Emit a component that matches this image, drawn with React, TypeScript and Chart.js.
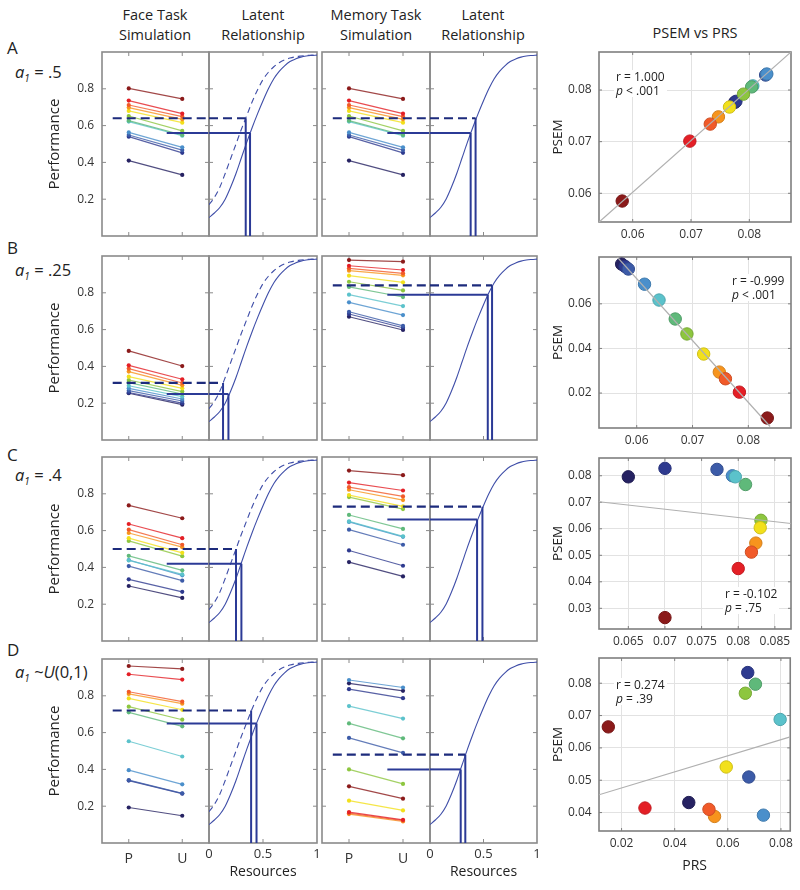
import React, { useEffect, useRef } from 'react';
import { Chart, registerables } from 'chart.js';

Chart.register(...registerables);

const FONT = '"Open Sans", "Noto Sans", Arial, sans-serif';

// ---------------- data ----------------
const SUBJECT_COLORS = ['#8b1a1a', '#e41f26', '#f15a29', '#f7941d', '#f2e01b', '#8dc63f', '#5fb97a', '#5bc2cb', '#4a8fcb', '#3c5ba8', '#2e3a8f', '#262262'];

const ROW_LETTERS = ['A', 'B', 'C', 'D'];
const A1_TEXT = ['= .5', '= .25', '= .4', '~U(0,1)'];

const SIM_X = [1, 2];
const SIM_TICK_LABELS = ['P', 'U'];
const PERF_TICKS = [0.2, 0.4, 0.6, 0.8];
const RESOURCE_TICKS = [0, 0.5, 1];
const RESOURCE_TICK_LABELS = ['0', '0.5', '1'];

// simulated performance, Present (P) and Unfamiliar (U), one value per subject
const FACE_A_P = [0.802, 0.736, 0.712, 0.698, 0.680, 0.652, 0.627, 0.622, 0.563, 0.549, 0.540, 0.410];
const FACE_A_U = [0.745, 0.665, 0.649, 0.634, 0.616, 0.571, 0.549, 0.545, 0.482, 0.467, 0.452, 0.332];
const MEM_A_P = [0.802, 0.736, 0.712, 0.698, 0.680, 0.652, 0.627, 0.622, 0.563, 0.549, 0.540, 0.410];
const MEM_A_U = [0.745, 0.665, 0.649, 0.634, 0.616, 0.571, 0.549, 0.545, 0.482, 0.467, 0.452, 0.332];
const FACE_B_P = [0.484, 0.406, 0.388, 0.372, 0.344, 0.326, 0.312, 0.295, 0.281, 0.268, 0.258, 0.254];
const FACE_B_U = [0.402, 0.330, 0.310, 0.297, 0.281, 0.263, 0.250, 0.236, 0.223, 0.212, 0.200, 0.192];
const MEM_B_P = [0.978, 0.947, 0.933, 0.920, 0.893, 0.860, 0.832, 0.790, 0.748, 0.697, 0.685, 0.670];
const MEM_B_U = [0.969, 0.924, 0.906, 0.895, 0.857, 0.813, 0.777, 0.728, 0.679, 0.620, 0.610, 0.598];
const FACE_C_P = [0.737, 0.636, 0.605, 0.587, 0.559, 0.544, 0.463, 0.438, 0.440, 0.407, 0.335, 0.299];
const FACE_C_U = [0.667, 0.559, 0.523, 0.510, 0.479, 0.461, 0.384, 0.362, 0.357, 0.328, 0.267, 0.234];
const MEM_C_P = [0.926, 0.861, 0.836, 0.822, 0.793, 0.782, 0.685, 0.650, 0.647, 0.605, 0.492, 0.429];
const MEM_C_U = [0.901, 0.818, 0.786, 0.766, 0.732, 0.717, 0.609, 0.569, 0.566, 0.523, 0.409, 0.351];
const FACE_D_P = [0.962, 0.917, 0.822, 0.810, 0.786, 0.741, 0.710, 0.553, 0.396, 0.342, 0.339, 0.193];
const FACE_D_U = [0.946, 0.888, 0.768, 0.757, 0.724, 0.670, 0.634, 0.470, 0.319, 0.270, 0.268, 0.148];
const MEM_D_P = [0.308, 0.168, 0.162, 0.157, 0.230, 0.400, 0.650, 0.744, 0.886, 0.571, 0.836, 0.868];
const MEM_D_U = [0.241, 0.126, 0.122, 0.117, 0.177, 0.321, 0.569, 0.676, 0.845, 0.490, 0.787, 0.827];

// mean performance (reference lines) and matching resources
const FACE_REF_P = [0.64, 0.31, 0.50, 0.72];
const FACE_REF_U = [0.56, 0.25, 0.42, 0.65];
const FACE_RES_P = [0.34, 0.13, 0.25, 0.39];
const FACE_RES_U = [0.38, 0.18, 0.30, 0.44];
const MEM_REF_P = [0.64, 0.84, 0.73, 0.48];
const MEM_REF_U = [0.56, 0.79, 0.66, 0.40];
const MEM_RES_P = [0.426, 0.58, 0.49, 0.33];
const MEM_RES_U = [0.38, 0.54, 0.44, 0.287];
const REF_START_P = 0.7;
const REF_START_U = 1.71;

// latent relationship curves
const RESOURCES = [0, 0.05, 0.1, 0.15, 0.2, 0.25, 0.3, 0.35, 0.4, 0.45, 0.5, 0.55, 0.6, 0.65, 0.7, 0.75, 0.8, 0.85, 0.9, 0.95, 1];
const LATENT_SOLID = [0.10, 0.125, 0.155, 0.20, 0.265, 0.34, 0.425, 0.51, 0.59, 0.665, 0.735, 0.80, 0.855, 0.895, 0.925, 0.948, 0.962, 0.972, 0.978, 0.981, 0.983];
const LATENT_DASHED = [0.17, 0.21, 0.265, 0.34, 0.42, 0.50, 0.58, 0.655, 0.73, 0.795, 0.85, 0.89, 0.92, 0.942, 0.957, 0.967, 0.974, 0.978, 0.981, 0.983, 0.985];

// PSEM vs PRS
const PRS_A = [0.0582, 0.0698, 0.0733, 0.0747, 0.0766, 0.0790, 0.0804, 0.0806, 0.0830, 0.0828, 0.0777, 0.0775];
const PSEM_A = [0.0585, 0.0701, 0.0734, 0.0748, 0.0767, 0.0792, 0.0806, 0.0808, 0.0831, 0.0829, 0.0778, 0.0776];
const PRS_B = [0.0834, 0.0784, 0.0759, 0.0748, 0.0720, 0.0690, 0.0669, 0.0640, 0.0614, 0.0585, 0.0579, 0.0573];
const PSEM_B = [0.0088, 0.0204, 0.0264, 0.0294, 0.0375, 0.0465, 0.0532, 0.0617, 0.0688, 0.0756, 0.0768, 0.0778];
const PRS_C = [0.0700, 0.0800, 0.0818, 0.0824, 0.0830, 0.0831, 0.0810, 0.0796, 0.0792, 0.0771, 0.0700, 0.0650];
const PSEM_C = [0.0265, 0.0450, 0.0512, 0.0546, 0.0604, 0.0632, 0.0767, 0.0796, 0.0800, 0.0824, 0.0828, 0.0796];
const PRS_D = [0.0150, 0.0288, 0.0529, 0.0550, 0.0594, 0.0666, 0.0704, 0.0797, 0.0734, 0.0679, 0.0675, 0.0453];
const PSEM_D = [0.0665, 0.0414, 0.0410, 0.0388, 0.0541, 0.0769, 0.0797, 0.0688, 0.0392, 0.0510, 0.0833, 0.0431];

const FIT_A_X = [0.0542, 0.0872];
const FIT_A_Y = [0.0544, 0.0874];
const FIT_B_X = [0.0565, 0.0839];
const FIT_B_Y = [0.0810, 0.0050];
const FIT_C_X = [0.0610, 0.0872];
const FIT_C_Y = [0.0702, 0.0620];
const FIT_D_X = [0.0115, 0.0835];
const FIT_D_Y = [0.0455, 0.0634];

const SCAT_X_RANGE = [[0.05422, 0.08715], [0.05324, 0.08765], [0.0610, 0.0872], [0.0115, 0.0835]];
const SCAT_Y_RANGE = [[0.05444, 0.08736], [0.00433, 0.0810], [0.0222, 0.0867], [0.0343, 0.0878]];
const SCAT_X_TICKS = [[0.06, 0.07, 0.08], [0.06, 0.07, 0.08], [0.065, 0.07, 0.075, 0.08, 0.085], [0.02, 0.04, 0.06, 0.08]];
const SCAT_X_LABELS = [['0.06', '0.07', '0.08'], ['0.06', '0.07', '0.08'], ['0.065', '0.07', '0.075', '0.08', '0.085'], ['0.02', '0.04', '0.06', '0.08']];
const SCAT_Y_TICKS = [[0.06, 0.07, 0.08], [0.02, 0.04, 0.06], [0.03, 0.04, 0.05, 0.06, 0.07, 0.08], [0.04, 0.05, 0.06, 0.07, 0.08]];
const SCAT_Y_LABELS = [['0.06', '0.07', '0.08'], ['0.02', '0.04', '0.06'], ['0.03', '0.04', '0.05', '0.06', '0.07', '0.08'], ['0.04', '0.05', '0.06', '0.07', '0.08']];
const R_TEXT = ['r = 1.000', 'r = -0.999', 'r = -0.102', 'r = 0.274'];
const P_TEXT = [' < .001', ' < .001', ' = .75', ' = .39'];

const FACE_P = [FACE_A_P, FACE_B_P, FACE_C_P, FACE_D_P];
const FACE_U = [FACE_A_U, FACE_B_U, FACE_C_U, FACE_D_U];
const MEM_P = [MEM_A_P, MEM_B_P, MEM_C_P, MEM_D_P];
const MEM_U = [MEM_A_U, MEM_B_U, MEM_C_U, MEM_D_U];
const PRS = [PRS_A, PRS_B, PRS_C, PRS_D];
const PSEM = [PSEM_A, PSEM_B, PSEM_C, PSEM_D];
const FIT_X = [FIT_A_X, FIT_B_X, FIT_C_X, FIT_D_X];
const FIT_Y = [FIT_A_Y, FIT_B_Y, FIT_C_Y, FIT_D_Y];

// ---------------- layout ----------------
const SIM_TOPS = [52, 256, 457, 659];
const SIM_H = 184;
const SCAT_TOPS = [52, 257, 458, 658];
const SCAT_HS = [170, 171, 171, 173];
const FACE_X = 102, FACE_W = 107;
const LAT1_X = 209, LAT1_W = 108;
const MEM_X = 322, MEM_W = 108;
const LAT2_X = 430, LAT2_W = 107;
const SCAT_X = 599, SCAT_W = 192;

const REF_DASH_COLOR = '#1d2b7c';
const REF_SOLID_COLOR = '#2b3a96';
const CURVE_COLOR = '#3f4ea8';
const FRAME_COLOR = '#8a8a8a';

type Box = { x: number; y: number; w: number; h: number };
type Pad = { l: number; r: number; t: number; b: number };

function withAlpha(hex: string, a: number) {
  const n = parseInt(hex.slice(1), 16);
  return `rgba(${(n >> 16) & 255},${(n >> 8) & 255},${n & 255},${a})`;
}
function shade(hex: string, f: number) {
  const n = parseInt(hex.slice(1), 16);
  const r = Math.round(((n >> 16) & 255) * f), g = Math.round(((n >> 8) & 255) * f), b = Math.round((n & 255) * f);
  return `rgb(${r},${g},${b})`;
}

const framePlugin = {
  id: 'frame',
  beforeDatasetsDraw(chart: any, _args: any, opts: any) {
    const { ctx, chartArea: a, scales } = chart;
    ctx.save();
    ctx.strokeStyle = opts.color || FRAME_COLOR;
    const L = opts.tickLen ?? 4;
    ctx.lineWidth = 1;
    ctx.beginPath();
    (opts.xTicks || []).forEach((v: number) => {
      const px = scales.x.getPixelForValue(v);
      ctx.moveTo(px, a.top); ctx.lineTo(px, a.top + L);
      ctx.moveTo(px, a.bottom); ctx.lineTo(px, a.bottom - L);
    });
    (opts.yTicks || []).forEach((v: number) => {
      const py = scales.y.getPixelForValue(v);
      ctx.moveTo(a.left, py); ctx.lineTo(a.left + L, py);
      ctx.moveTo(a.right, py); ctx.lineTo(a.right - L, py);
    });
    ctx.stroke();
    ctx.lineWidth = opts.lineWidth || 1.6;
    ctx.strokeRect(a.left, a.top, a.right - a.left, a.bottom - a.top);
    ctx.restore();
  },
};

function baseOptions(pad: Pad) {
  return {
    responsive: false,
    maintainAspectRatio: false,
    animation: false,
    devicePixelRatio: 1,
    events: [],
    layout: { padding: { left: 0, top: pad.t, right: pad.r, bottom: 0 } },
  };
}

function fixedTicks(values: number[]) {
  return (s: any) => { s.ticks = values.map((v) => ({ value: v })); };
}

function line(points: { x: number; y: number }[], color: string, width: number, dash: number[] = [], order = 0) {
  return { data: points, showLine: true, borderColor: color, borderWidth: width, borderDash: dash, pointRadius: 0, order, fill: false, tension: 0 };
}

function ChartCanvas({ box, pad, build }: { box: Box; pad: Pad; build: () => any }) {
  const ref = useRef<HTMLCanvasElement | null>(null);
  useEffect(() => {
    if (!ref.current) return;
    const chart = new Chart(ref.current, build());
    return () => chart.destroy();
  }, []);
  const W = box.w + pad.l + pad.r;
  const H = box.h + pad.t + pad.b;
  return (
    <div style={{ position: 'absolute', left: box.x - pad.l, top: box.y - pad.t, width: W, height: H }}>
      <canvas ref={ref} width={W} height={H} style={{ width: W, height: H, display: 'block' }} />
    </div>
  );
}

function simConfig(row: number, task: 'face' | 'mem', pad: Pad) {
  const isFace = task === 'face';
  const P = isFace ? FACE_P[row] : MEM_P[row];
  const U = isFace ? FACE_U[row] : MEM_U[row];
  const refP = isFace ? FACE_REF_P[row] : MEM_REF_P[row];
  const refU = isFace ? FACE_REF_U[row] : MEM_REF_U[row];
  const last = row === 3;
  const datasets: any[] = [
    line([{ x: REF_START_P, y: refP }, { x: 2.5, y: refP }], REF_DASH_COLOR, 2.2, [9, 5], 0),
    line([{ x: REF_START_U, y: refU }, { x: 2.5, y: refU }], REF_SOLID_COLOR, 2, [], 0),
  ];
  P.forEach((p, i) => {
    datasets.push({
      data: [{ x: SIM_X[0], y: p }, { x: SIM_X[1], y: U[i] }],
      showLine: true,
      borderColor: withAlpha(SUBJECT_COLORS[i], 0.8),
      borderWidth: 1.2,
      pointRadius: 2.1,
      pointBackgroundColor: SUBJECT_COLORS[i],
      pointBorderWidth: 0,
      order: 1,
    });
  });
  return {
    type: 'scatter',
    data: { datasets },
    options: {
      ...baseOptions(pad),
      plugins: { legend: { display: false }, tooltip: { enabled: false }, frame: { xTicks: SIM_X, yTicks: PERF_TICKS } },
      scales: {
        x: {
          type: 'linear', min: 0.5, max: 2.5, bounds: 'data',
          afterBuildTicks: fixedTicks(SIM_X),
          afterFit: (s: any) => { s.height = pad.b; },
          grid: { display: false, drawTicks: false },
          border: { display: false },
          ticks: { display: last, autoSkip: false, maxRotation: 0, padding: 7.6, color: '#333', font: { family: FONT, size: 14 }, callback: (_v: any, i: number) => SIM_TICK_LABELS[i] },
        },
        y: {
          type: 'linear', min: 0, max: 1, bounds: 'data',
          afterBuildTicks: fixedTicks(PERF_TICKS),
          afterFit: (s: any) => { s.width = pad.l; },
          grid: { display: false, drawTicks: false },
          border: { display: false },
          ticks: { display: isFace, autoSkip: false, padding: 8, color: '#333', font: { family: FONT, size: 12 }, callback: (_v: any, i: number) => PERF_TICKS[i].toFixed(1) },
          title: { display: isFace, text: 'Performance', color: '#222', font: { family: FONT, size: 15 }, padding: { top: 6, bottom: 0 } },
        },
      },
    },
    plugins: [framePlugin],
  };
}

function latentConfig(row: number, task: 'face' | 'mem', pad: Pad) {
  const isFace = task === 'face';
  const refP = isFace ? FACE_REF_P[row] : MEM_REF_P[row];
  const refU = isFace ? FACE_REF_U[row] : MEM_REF_U[row];
  const resP = isFace ? FACE_RES_P[row] : MEM_RES_P[row];
  const resU = isFace ? FACE_RES_U[row] : MEM_RES_U[row];
  const last = row === 3;
  const datasets: any[] = [
    line([{ x: 0, y: refP }, { x: resP, y: refP }], REF_DASH_COLOR, 2.2, [9, 5], 0),
    line([{ x: resP, y: refP }, { x: resP, y: 0 }], REF_SOLID_COLOR, 2, [], 0),
    line([{ x: 0, y: refU }, { x: resU, y: refU }], REF_SOLID_COLOR, 2, [], 0),
    line([{ x: resU, y: refU }, { x: resU, y: 0 }], REF_SOLID_COLOR, 2, [], 0),
    { ...line(RESOURCES.map((x, i) => ({ x, y: LATENT_SOLID[i] })), CURVE_COLOR, 1.1, [], 1), cubicInterpolationMode: 'monotone' },
  ];
  if (isFace) {
    datasets.push({ ...line(RESOURCES.map((x, i) => ({ x, y: LATENT_DASHED[i] })), CURVE_COLOR, 1.1, [6, 4], 1), cubicInterpolationMode: 'monotone' });
  }
  return {
    type: 'scatter',
    data: { datasets },
    options: {
      ...baseOptions(pad),
      plugins: { legend: { display: false }, tooltip: { enabled: false }, frame: { xTicks: [0.5], yTicks: PERF_TICKS } },
      scales: {
        x: {
          type: 'linear', min: 0, max: 1, bounds: 'data',
          afterBuildTicks: fixedTicks(RESOURCE_TICKS),
          afterFit: (s: any) => { s.height = pad.b; },
          grid: { display: false, drawTicks: false },
          border: { display: false },
          ticks: { display: last, autoSkip: false, maxRotation: 0, padding: 3.2, color: '#333', font: { family: FONT, size: 13 }, callback: (_v: any, i: number) => RESOURCE_TICK_LABELS[i] },
          title: { display: last, text: 'Resources', color: '#222', font: { family: FONT, size: 14 }, padding: { top: 0, bottom: 4.6 } },
        },
        y: {
          type: 'linear', min: 0, max: 1, bounds: 'data',
          afterBuildTicks: fixedTicks(PERF_TICKS),
          afterFit: (s: any) => { s.width = pad.l; },
          grid: { display: false, drawTicks: false },
          border: { display: false },
          ticks: { display: false },
        },
      },
    },
    plugins: [framePlugin],
  };
}

function scatterConfig(row: number, pad: Pad) {
  const order = PRS[row].map((_, i) => i).reverse();
  const last = row === 3;
  const xt = SCAT_X_TICKS[row], yt = SCAT_Y_TICKS[row];
  const xl = SCAT_X_LABELS[row], yl = SCAT_Y_LABELS[row];
  const datasets: any[] = [
    line([{ x: FIT_X[row][0], y: FIT_Y[row][0] }, { x: FIT_X[row][1], y: FIT_Y[row][1] }], '#b0b0b0', 1.2, [], 0),
    {
      data: order.map((i) => ({ x: PRS[row][i], y: PSEM[row][i] })),
      pointRadius: 6.2,
      pointBackgroundColor: order.map((i) => SUBJECT_COLORS[i]),
      pointBorderColor: order.map((i) => shade(SUBJECT_COLORS[i], 0.85)),
      pointBorderWidth: 1,
      showLine: false,
      order: 1,
    },
  ];
  return {
    type: 'scatter',
    data: { datasets },
    options: {
      ...baseOptions(pad),
      plugins: { legend: { display: false }, tooltip: { enabled: false }, frame: { xTicks: xt, yTicks: yt, color: '#7f7f7f', lineWidth: 1.6, tickLen: 3 } },
      scales: {
        x: {
          type: 'linear', min: SCAT_X_RANGE[row][0], max: SCAT_X_RANGE[row][1], bounds: 'data',
          afterBuildTicks: fixedTicks(xt),
          afterFit: (s: any) => { s.height = pad.b; },
          grid: { display: true, drawTicks: false, color: '#e2e2e2', lineWidth: 1 },
          border: { display: false },
          ticks: { autoSkip: false, maxRotation: 0, padding: 5.8, color: '#333', font: { family: FONT, size: 12 }, callback: (_v: any, i: number) => xl[i] },
          title: { display: last, text: 'PRS', color: '#222', font: { family: FONT, size: 14 }, padding: { top: 0, bottom: 4.6 } },
        },
        y: {
          type: 'linear', min: SCAT_Y_RANGE[row][0], max: SCAT_Y_RANGE[row][1], bounds: 'data',
          afterBuildTicks: fixedTicks(yt),
          afterFit: (s: any) => { s.width = pad.l; },
          grid: { display: true, drawTicks: false, color: '#e2e2e2', lineWidth: 1 },
          border: { display: false },
          ticks: { autoSkip: false, padding: 7.3, color: '#333', font: { family: FONT, size: 12 }, callback: (_v: any, i: number) => yl[i] },
          title: { display: true, text: 'PSEM', color: '#222', font: { family: FONT, size: 13.5 }, padding: { top: 14.9, bottom: 0 } },
        },
      },
    },
    plugins: [framePlugin],
  };
}

function Text({ x, y, children, size = 14, center = false, lh = 20, style = {} }: any) {
  return (
    <div style={{
      position: 'absolute', left: x, top: y, fontFamily: FONT, fontSize: size, lineHeight: `${lh}px`,
      color: '#222', whiteSpace: 'nowrap', textAlign: center ? 'center' : 'left',
      transform: center ? 'translateX(-50%)' : undefined, ...style,
    }}>{children}</div>
  );
}

const ROW_LETTER_Y = [38, 238, 445, 640];
const A1_Y = [62, 260, 465, 662];
const STAT_POS = [[616, 70], [732, 274], [725, 587], [616, 678]];

export default function App() {
  const rows = [0, 1, 2, 3];
  return (
    <div style={{ position: 'absolute', left: 0, top: 0, width: 800, height: 890, background: '#fff', overflow: 'hidden' }}>
      <Text x={155} y={5} center size={14.5}>Face Task<br />Simulation</Text>
      <Text x={263} y={5} center size={14.5}>Latent<br />Relationship</Text>
      <Text x={376} y={5} center size={14.5}>Memory Task<br />Simulation</Text>
      <Text x={483} y={5} center size={14.5}>Latent<br />Relationship</Text>
      <Text x={695} y={23} center size={14.5}>PSEM vs PRS</Text>

      {rows.map((r) => (
        <React.Fragment key={'lbl' + r}>
          <Text x={7} y={ROW_LETTER_Y[r]} size={17}>{ROW_LETTERS[r]}</Text>
          <Text x={15} y={A1_Y[r]} size={16.5}>
            <i>a</i><sub style={{ fontSize: 10, fontStyle: 'italic' }}>1</sub>{' '}
            {r === 3 ? <span>~<i>U</i>(0,1)</span> : A1_TEXT[r]}
          </Text>
        </React.Fragment>
      ))}

      {rows.map((r) => {
        const simB = r === 3 ? 40 : 20;
        const latB = r === 3 ? 42 : 20;
        const scB = r === 3 ? 48 : 24;
        const facePad = { l: 62, r: 10, t: 18, b: simB };
        const memPad = { l: 10, r: 10, t: 18, b: simB };
        const latPad = { l: 14, r: 14, t: 18, b: latB };
        const scPad = { l: 64, r: 8, t: 16, b: scB };
        return (
          <React.Fragment key={'row' + r}>
            <ChartCanvas box={{ x: FACE_X, y: SIM_TOPS[r], w: FACE_W, h: SIM_H }} pad={facePad} build={() => simConfig(r, 'face', facePad)} />
            <ChartCanvas box={{ x: LAT1_X, y: SIM_TOPS[r], w: LAT1_W, h: SIM_H }} pad={latPad} build={() => latentConfig(r, 'face', latPad)} />
            <ChartCanvas box={{ x: MEM_X, y: SIM_TOPS[r], w: MEM_W, h: SIM_H }} pad={memPad} build={() => simConfig(r, 'mem', memPad)} />
            <ChartCanvas box={{ x: LAT2_X, y: SIM_TOPS[r], w: LAT2_W, h: SIM_H }} pad={latPad} build={() => latentConfig(r, 'mem', latPad)} />
            <ChartCanvas box={{ x: SCAT_X, y: SCAT_TOPS[r], w: SCAT_W, h: SCAT_HS[r] }} pad={scPad} build={() => scatterConfig(r, scPad)} />
          </React.Fragment>
        );
      })}

      {rows.map((r) => (
        <Text key={'stat' + r} x={STAT_POS[r][0]} y={STAT_POS[r][1]} size={12} lh={13.5}
          style={{ background: '#fff', padding: '0 2px', marginLeft: -2 }}>
          {R_TEXT[r]}<br /><i>p</i>{P_TEXT[r]}
        </Text>
      ))}
    </div>
  );
}
